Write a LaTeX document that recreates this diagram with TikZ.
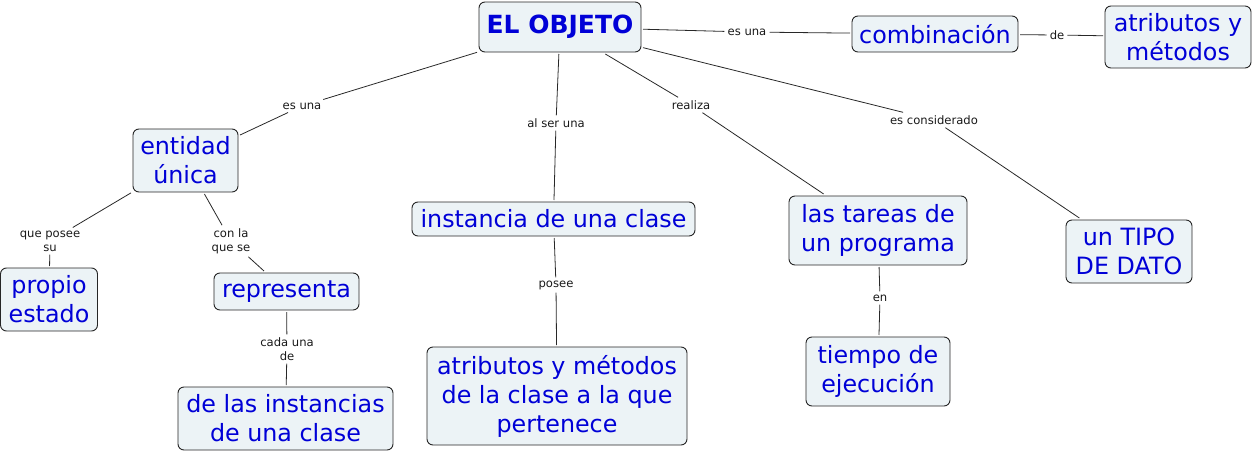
\documentclass[tikz,border=0pt]{standalone}
\usepackage{fontspec}
\setmainfont{DejaVu Sans}
\definecolor{boxfill}{RGB}{236,243,246}
\definecolor{cblue}{RGB}{0,0,215}
\definecolor{lnk}{RGB}{40,40,40}
\begin{document}
\begin{tikzpicture}[x=1pt,y=-1pt,
  box/.style={draw=black!85, line width=0.9pt, rounded corners=6pt, fill=boxfill, text=cblue,
    font=\fontsize{23.8}{29}\selectfont, align=center, inner sep=0pt, outer sep=2pt},
  lbl/.style={font=\fontsize{11.6}{14}\selectfont, text=black!90, align=center, inner sep=3pt},
  conn/.style={draw=lnk, line width=0.8pt}]
\useasboundingbox (0,0) rectangle (1254,453);
% concept boxes
\node[box, minimum width=162, minimum height=50, font=\fontsize{25}{29}\bfseries\selectfont] (obj) at (560,27) {EL OBJETO};
\node[box, minimum width=166, minimum height=36] (comb) at (935,34) {combinación};
\node[box, minimum width=146, minimum height=62] (atr1) at (1178,37) {atributos y\\métodos};
\node[box, minimum width=105, minimum height=63] (ent) at (185.5,160.5) {entidad\\única};
\node[box, minimum width=283, minimum height=34] (inst) at (553.5,219) {instancia de una clase};
\node[box, minimum width=178, minimum height=69] (tareas) at (878,230.5) {las tareas de\\un programa};
\node[box, minimum width=126, minimum height=63] (tipo) at (1129,251.5) {un TIPO\\DE DATO};
\node[box, minimum width=97, minimum height=63] (propio) at (49,299.5) {propio\\estado};
\node[box, minimum width=145, minimum height=37] (repr) at (286.5,291.5) {representa};
\node[box, minimum width=215, minimum height=63] (insts) at (285.5,418.5) {de las instancias\\de una clase};
\node[box, minimum width=260, minimum height=98] (atr2) at (557,396) {atributos y métodos\\de la clase a la que\\pertenece};
\node[box, minimum width=144, minimum height=69] (tiempo) at (878,371.5) {tiempo de\\ejecución};
% linking phrases
\node[lbl] (l1) at (747,32) {es una};
\node[lbl] (l2) at (1057,35) {de};
\node[lbl] (l3) at (302,106) {es una};
\node[lbl] (l4) at (556,123) {al ser una};
\node[lbl] (l5) at (691,105) {realiza};
\node[lbl] (l6) at (934,120) {es considerado};
\node[lbl] (l7) at (50,241) {que posee\\su};
\node[lbl] (l8) at (231,241) {con la\\que se};
\node[lbl] (l9) at (287,349) {cada una\\de};
\node[lbl] (l10) at (556,285) {posee};
\node[lbl] (l11) at (880,298) {en};
% connectors
\draw[conn] (obj) -- (l1) -- (comb);
\draw[conn] (comb) -- (l2) -- (atr1);
\draw[conn] (obj) -- (l3) -- (ent);
\draw[conn] (obj) -- (l4) -- (inst);
\draw[conn] (obj) -- (l5) -- (tareas);
\draw[conn] (obj) -- (l6) -- (tipo);
\draw[conn] (ent) -- (l7) -- (propio);
\draw[conn] (ent) -- (l8) -- (repr);
\draw[conn] (repr) -- (l9) -- (insts);
\draw[conn] (inst) -- (l10) -- (atr2);
\draw[conn] (tareas) -- (l11) -- (tiempo);
\end{tikzpicture}
\end{document}
